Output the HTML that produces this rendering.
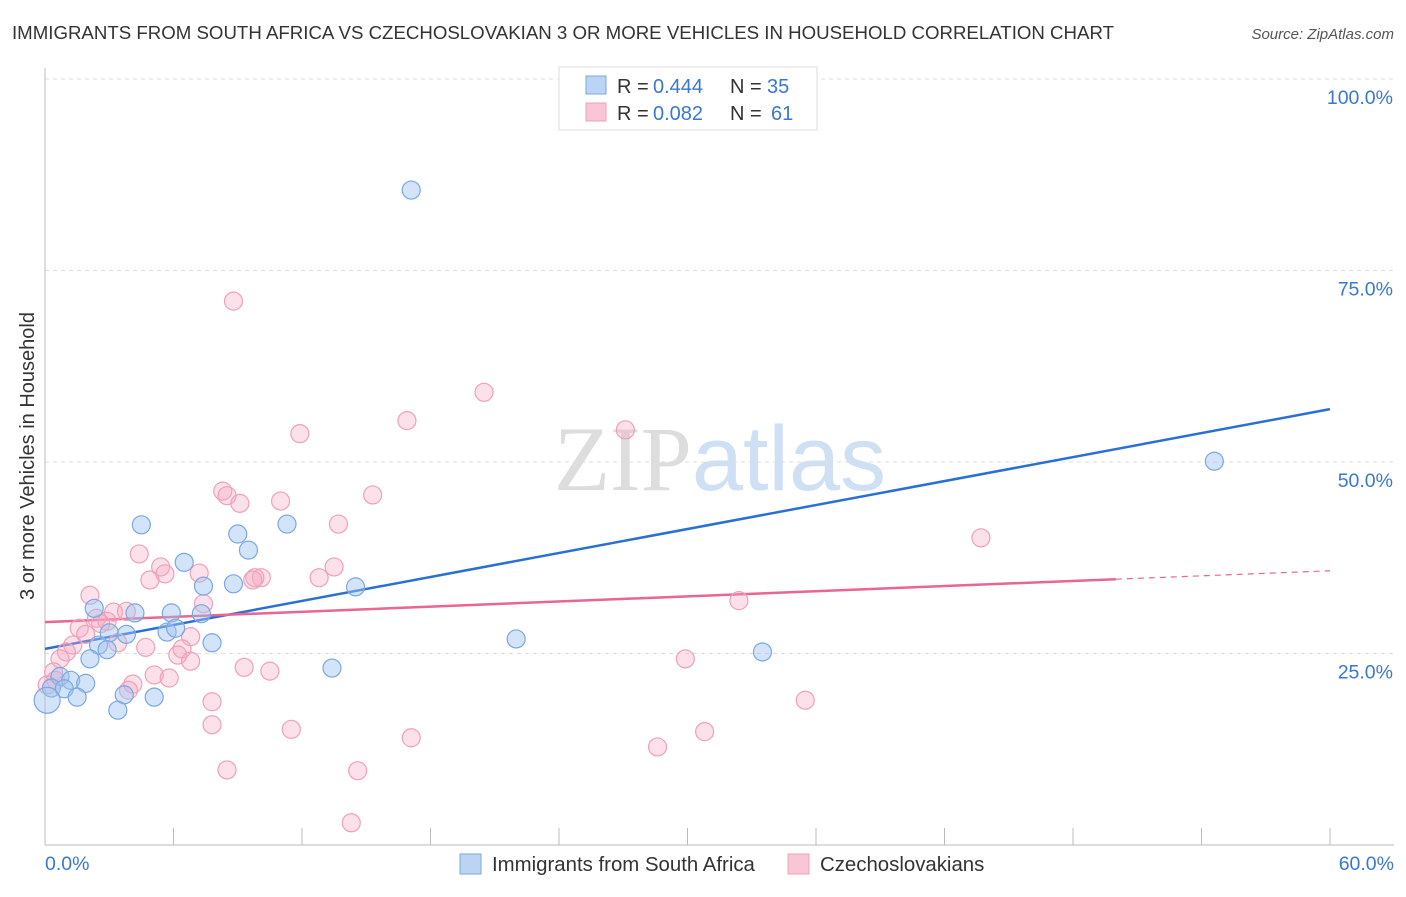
<!DOCTYPE html>
<html><head><meta charset="utf-8"><style>
body{margin:0;background:#fff;font-family:"Liberation Sans",sans-serif;}
svg text{font-family:"Liberation Sans",sans-serif;}
</style></head><body>
<svg id="chart" width="1406" height="892" xmlns="http://www.w3.org/2000/svg">
<text x="12" y="39" font-size="18.6" fill="#333" textLength="1102" lengthAdjust="spacingAndGlyphs">IMMIGRANTS FROM SOUTH AFRICA VS CZECHOSLOVAKIAN 3 OR MORE VEHICLES IN HOUSEHOLD CORRELATION CHART</text>
<text x="1394" y="39" font-size="15" fill="#555" font-style="italic" text-anchor="end">Source: ZipAtlas.com</text>
<text x="720" y="490" font-size="92" text-anchor="middle"><tspan fill="#ddd" font-family="Liberation Serif">ZIP</tspan><tspan fill="#cfe0f5">atlas</tspan></text>
<g id="grid"></g>
<g id="axes"></g>
<g id="lines"></g>
<g id="points"></g>
<text transform="translate(34,456) rotate(-90)" font-size="20" fill="#333" text-anchor="middle">3 or more Vehicles in Household</text>
<g>
<rect x="559" y="67" width="258" height="63" fill="#fff" stroke="#ddd"/>
<rect x="586" y="76" width="20" height="18" fill="#bcd4f4" stroke="#7aa8e0"/>
<rect x="586" y="103" width="20" height="18" fill="#f9c6d5" stroke="#f0a0b8"/>
<text x="617" y="93" font-size="20" fill="#333">R =</text>
<text x="653" y="93" font-size="20" fill="#3a78d0">0.444</text>
<text x="730" y="93" font-size="20" fill="#333">N =</text>
<text x="767" y="93" font-size="20" fill="#3a78d0">35</text>
<text x="617" y="120" font-size="20" fill="#333">R =</text>
<text x="653" y="120" font-size="20" fill="#3a78d0">0.082</text>
<text x="730" y="120" font-size="20" fill="#333">N =</text>
<text x="771" y="120" font-size="20" fill="#3a78d0">61</text>
</g>
<g>
<rect x="460" y="854" width="21" height="20" fill="#bcd4f4" stroke="#7aa8e0"/>
<text x="492" y="871" font-size="20.4" fill="#333">Immigrants from South Africa</text>
<rect x="788" y="854" width="21" height="20" fill="#f9c6d5" stroke="#f0a0b8"/>
<text x="820" y="871" font-size="20.4" fill="#333">Czechoslovakians</text>
</g>
</svg>
<script>
const blueX=[17.1,54.6,4.5,9.0,11.3,9.5,6.5,7.4,8.8,14.5,2.3,4.2,5.9,7.3,3.0,3.8,5.7,6.1,2.5,2.9,7.8,2.1,22.0,33.5,13.4,0.7,1.2,1.9,0.3,0.9,1.5,3.7,5.1,3.4,0.1];
const blueY=[85.5,50.1,41.8,40.6,41.9,38.5,36.9,33.8,34.1,33.7,30.9,30.3,30.3,30.2,27.7,27.5,27.8,28.3,26.1,25.5,26.4,24.3,26.9,25.2,23.1,22.0,21.5,21.1,20.5,20.4,19.3,19.6,19.3,17.6,18.9];
const pinkX=[8.8,20.5,16.9,11.9,27.1,8.3,8.5,9.1,11.0,15.3,13.7,43.7,4.4,5.4,5.6,4.9,7.2,10.1,9.8,9.7,12.8,13.5,2.1,7.4,3.2,3.8,2.4,2.9,1.6,1.9,6.8,2.6,32.4,4.7,3.4,1.3,6.4,1.0,6.2,6.8,0.7,9.3,10.5,29.9,5.1,5.8,4.1,3.9,0.4,0.5,0.1,7.8,35.5,7.8,11.5,30.8,28.6,17.1,8.5,14.6,14.3];
const pinkY=[71.0,59.1,55.4,53.7,54.2,46.2,45.6,44.6,44.9,45.7,41.9,40.1,38.0,36.3,35.4,34.6,35.5,34.9,34.9,34.6,34.9,36.3,32.6,31.5,30.4,30.5,29.6,29.2,28.3,27.5,27.2,28.9,31.9,25.8,26.4,26.1,25.6,25.2,24.8,24.0,24.3,23.2,22.7,24.3,22.2,21.8,21.0,20.2,22.6,21.5,20.9,18.7,18.9,15.7,15.1,14.8,12.8,14.0,9.8,9.7,2.9];
const blueTrend=[25.6,56.9];
const pinkTrend=[29.1,34.7,35.8];
const yTicks=[100,75,50,25];
const yTickLabels=["100.0%","75.0%","50.0%","25.0%"];
const xTickLabels=["0.0%","60.0%"];
const NS="http://www.w3.org/2000/svg";
const sx=v=>45+v/60*1285, sy=v=>845-v/100*766;
function mk(tag,attrs,parent){const e=document.createElementNS(NS,tag);for(const k in attrs)e.setAttribute(k,attrs[k]);document.getElementById(parent).appendChild(e);return e;}
yTicks.forEach((t,i)=>{
 const l=mk('line',{x1:45,x2:1394,y1:sy(t),y2:sy(t),stroke:'#ddd','stroke-dasharray':'4,4'},'grid');
 
 
 const tx=mk('text',{x:1393,y:sy(t)+25,'font-size':19.5,fill:'#3a78d0','text-anchor':'end'},'grid');
 tx.textContent=yTickLabels[i];
 
 
});
let a=mk('line',{x1:45,x2:45,y1:68,y2:845,stroke:'#bbb'},'axes');


a=mk('line',{x1:45,x2:1394,y1:845,y2:845,stroke:'#bbb'},'axes');


for(let i=0;i<=10;i++){const x=sx(i*6);const t=mk('line',{x1:x,x2:x,y1:828,y2:845,stroke:'#bbb'},'axes');
 
 }
[[0,'start',45],[60,'end',1394]].forEach((d,i)=>{const t=mk('text',{x:d[2],y:870,'font-size':19.5,fill:'#3a78d0','text-anchor':d[1]},'axes');t.textContent=xTickLabels[i];
 
 });
function pts(X,Y,fill,stroke,name){X.forEach((x,i)=>{const c=mk('circle',{cx:sx(x),cy:sy(Y[i]),r:(i==X.length-1&&name=='blue-point')?13:9,fill:fill,stroke:stroke,'stroke-width':1.2},'points');
 
 });}
pts(pinkX,pinkY,'rgba(245,170,195,0.35)','#f0a0b8','pink-point');
pts(blueX,blueY,'rgba(160,196,240,0.45)','#7aa8e0','blue-point');
let tl=mk('line',{x1:sx(0),y1:sy(blueTrend[0]),x2:sx(60),y2:sy(blueTrend[1]),stroke:'#2a6fd6','stroke-width':2.5},'lines');


tl=mk('line',{x1:sx(0),y1:sy(pinkTrend[0]),x2:sx(50),y2:sy(pinkTrend[1]),stroke:'#e8668f','stroke-width':2.5},'lines');


tl=mk('line',{x1:sx(50),y1:sy(pinkTrend[1]),x2:sx(60),y2:sy(pinkTrend[2]),stroke:'#e8668f','stroke-width':1.2,'stroke-dasharray':'6,5'},'lines');


</script>
</body></html>
